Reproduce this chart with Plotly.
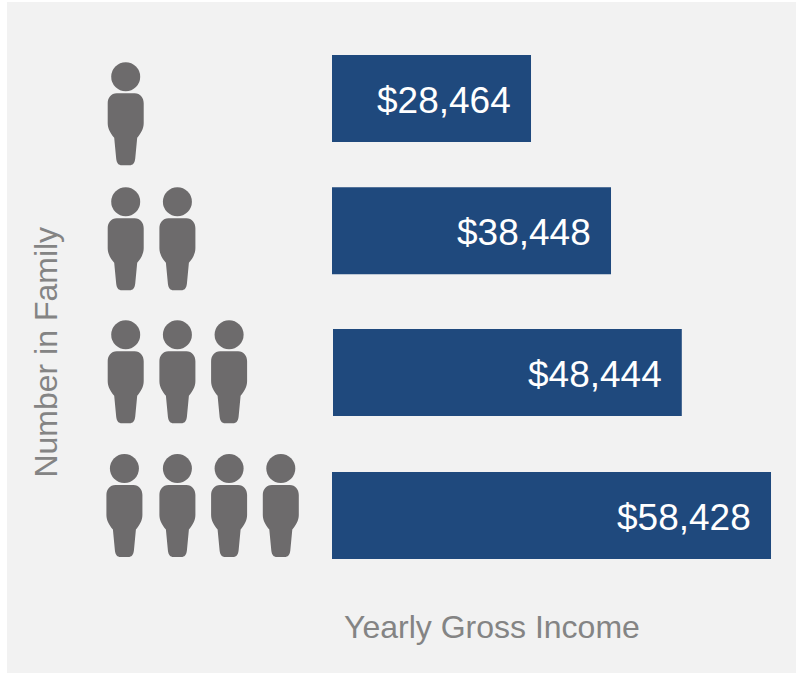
import plotly.graph_objects as go

# --- data ---
family_sizes = [1, 2, 3, 4]
income_labels = ["$28,464", "$38,448", "$48,444", "$58,428"]
# bar lengths as actually drawn in the picture, in dollars on its own scale
bar_lengths = [26486, 37133, 46420, 58428]
bar_bases = [0, 0, 133, 0]
# row centres, in family-size units
bar_rows = [1.07, 2.0, 2.995, 4.0]
icon_rows = [1.178, 2.056, 2.99, 3.93]
first_icon_nudge = [0, 0, 0, -0.025]
x_title = "Yearly Gross Income"
y_title = "Number in Family"

PANEL = "#f2f2f2"
BAR = "#1f497d"
ICON = "#6d6b6c"
TITLE = "#848484"
W, H = 796, 673
L, T = 7, 2
USD_PER_PX = 133.09
ROW_PX = 142.33
SLOT_PX = 51.7
HEAD_OFFSET = 37 / ROW_PX


def x_at(px):
    return (px - 332) * USD_PER_PX


def slot_at(px):
    return (px - 125.7) / SLOT_PX + 1


def y_at(px):
    return 4 + (px - 515.5) / ROW_PX


# right half of the person's body, px from the icon centre (y down)
R = [(9, -20.5), (14.5, -20.5), (18, -16), (18, -10.5), (18, 9.5),
     (18, 15), (15, 20), (11.5, 24), (9.5, 45), (9, 49.5), (7, 51.5), (4, 51.5)]


def body_path():
    def pt(i, s=1):
        return f"{s * R[i][0]},{-R[i][1]}"

    return (
        f"M{pt(0, -1)} L{pt(0)} "
        f"C{pt(1)} {pt(2)} {pt(3)} L{pt(4)} "
        f"C{pt(5)} {pt(6)} {pt(7)} L{pt(8)} "
        f"C{pt(9)} {pt(10)} {pt(11)} L{pt(11, -1)} "
        f"C{pt(10, -1)} {pt(9, -1)} {pt(8, -1)} L{pt(7, -1)} "
        f"C{pt(6, -1)} {pt(5, -1)} {pt(4, -1)} L{pt(3, -1)} "
        f"C{pt(2, -1)} {pt(1, -1)} {pt(0, -1)} Z"
    )


fig = go.Figure()
fig.add_trace(go.Bar(
    y=bar_rows, x=bar_lengths, base=bar_bases, orientation="h",
    width=87 / ROW_PX, marker=dict(color=BAR, line=dict(width=0)),
    showlegend=False, hoverinfo="skip",
))

head_x, head_y, shapes = [], [], []
for size, row, nudge in zip(family_sizes, icon_rows, first_icon_nudge):
    for slot in range(1, size + 1):
        sx = slot + (nudge if slot == 1 else 0)
        head_x.append(sx)
        head_y.append(row - HEAD_OFFSET)
        shapes.append(dict(
            type="path", xref="x2", yref="y", xsizemode="pixel", ysizemode="pixel",
            xanchor=sx, yanchor=row, path=body_path(),
            fillcolor=ICON, line=dict(width=0), layer="above",
        ))

fig.add_trace(go.Scatter(
    x=head_x, y=head_y, xaxis="x2", yaxis="y", mode="markers",
    marker=dict(symbol="circle", size=29, color=ICON, line=dict(width=0)),
    showlegend=False, hoverinfo="skip",
))

annotations = []
for label, length, base, row in zip(income_labels, bar_lengths, bar_bases, bar_rows):
    annotations.append(dict(
        x=length + base, y=row, xref="x", yref="y", text=label, showarrow=False,
        xanchor="right", yanchor="middle", xshift=-18, yshift=-2,
        font=dict(family="Liberation Sans", size=37, color="#ffffff"),
    ))
annotations.append(dict(
    x=489.5 / W, y=1 - 627 / H, xref="paper", yref="paper", text=x_title, showarrow=False,
    xanchor="center", yanchor="middle", font=dict(family="Liberation Sans", size=32, color=TITLE),
))
annotations.append(dict(
    x=39 / W, y=1 - 351 / H, xref="paper", yref="paper", text=y_title, showarrow=False,
    textangle=-90, xanchor="center", yanchor="middle",
    font=dict(family="Liberation Sans", size=32, color=TITLE),
))

fig.update_layout(
    width=W, height=H, autosize=False,
    margin=dict(l=L, r=0, t=T, b=0, pad=0),
    paper_bgcolor="#ffffff", plot_bgcolor=PANEL,
    showlegend=False, barmode="overlay",
    xaxis=dict(range=[x_at(L), x_at(W)], visible=False, fixedrange=True),
    xaxis2=dict(range=[slot_at(L), slot_at(W)], overlaying="x", visible=False, fixedrange=True),
    yaxis=dict(range=[y_at(H), y_at(T)], visible=False, fixedrange=True),
    shapes=shapes, annotations=annotations,
)

fig.write_html("out.html", config={"displayModeBar": False},
               post_script="document.body.style.margin='0';")
